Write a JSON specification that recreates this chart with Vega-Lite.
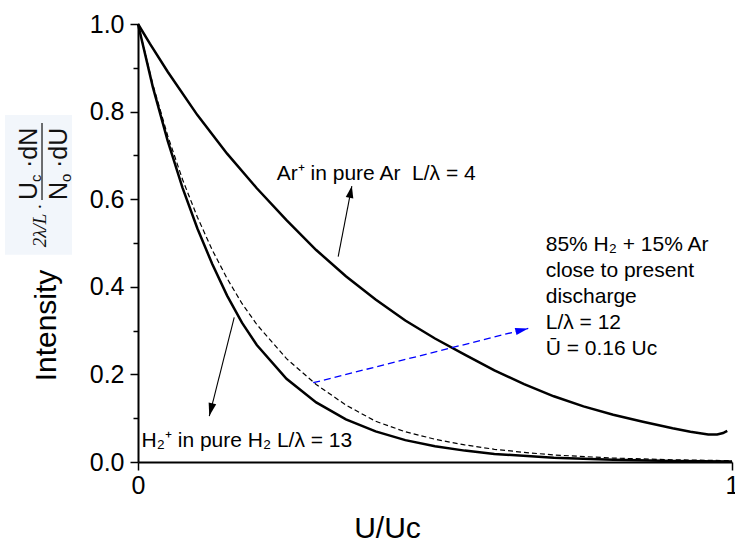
{
  "$schema": "https://vega.github.io/schema/vega-lite/v6.json",
  "width": 594,
  "height": 438,
  "autosize": {"type": "none"},
  "padding": {"left": 138, "top": 24, "right": 3, "bottom": 83},
  "background": "white",
  "config": {
    "font": "Liberation Sans",
    "view": {"stroke": null},
    "axis": {"grid": false, "domainColor": "black", "tickColor": "black", "labelColor": "black", "titleColor": "black", "titleFontWeight": "normal", "labelFont": "Liberation Sans", "titleFont": "Liberation Sans"}
  },
  "datasets": {
    "curves": [
      {"series": "Ar", "x": 0, "y": 1},
      {"series": "Ar", "x": 0.02, "y": 0.955},
      {"series": "Ar", "x": 0.05, "y": 0.891},
      {"series": "Ar", "x": 0.1, "y": 0.792},
      {"series": "Ar", "x": 0.15, "y": 0.704},
      {"series": "Ar", "x": 0.2, "y": 0.625},
      {"series": "Ar", "x": 0.25, "y": 0.552},
      {"series": "Ar", "x": 0.3, "y": 0.484},
      {"series": "Ar", "x": 0.35, "y": 0.424},
      {"series": "Ar", "x": 0.4, "y": 0.371},
      {"series": "Ar", "x": 0.45, "y": 0.323},
      {"series": "Ar", "x": 0.5, "y": 0.282},
      {"series": "Ar", "x": 0.55, "y": 0.245},
      {"series": "Ar", "x": 0.6, "y": 0.209},
      {"series": "Ar", "x": 0.65, "y": 0.178},
      {"series": "Ar", "x": 0.7, "y": 0.150},
      {"series": "Ar", "x": 0.75, "y": 0.127},
      {"series": "Ar", "x": 0.8, "y": 0.108},
      {"series": "Ar", "x": 0.85, "y": 0.092},
      {"series": "Ar", "x": 0.9, "y": 0.077},
      {"series": "Ar", "x": 0.93, "y": 0.069},
      {"series": "Ar", "x": 0.96, "y": 0.063},
      {"series": "Ar", "x": 0.975, "y": 0.063},
      {"series": "Ar", "x": 0.985, "y": 0.066},
      {"series": "Ar", "x": 0.992, "y": 0.071},
      {"series": "H2", "x": 0, "y": 1},
      {"series": "H2", "x": 0.025, "y": 0.856},
      {"series": "H2", "x": 0.05, "y": 0.733},
      {"series": "H2", "x": 0.075, "y": 0.626},
      {"series": "H2", "x": 0.1, "y": 0.533},
      {"series": "H2", "x": 0.125, "y": 0.452},
      {"series": "H2", "x": 0.15, "y": 0.380},
      {"series": "H2", "x": 0.175, "y": 0.318},
      {"series": "H2", "x": 0.2, "y": 0.267},
      {"series": "H2", "x": 0.25, "y": 0.190},
      {"series": "H2", "x": 0.3, "y": 0.136},
      {"series": "H2", "x": 0.35, "y": 0.0975},
      {"series": "H2", "x": 0.4, "y": 0.070},
      {"series": "H2", "x": 0.45, "y": 0.050},
      {"series": "H2", "x": 0.5, "y": 0.036},
      {"series": "H2", "x": 0.55, "y": 0.026},
      {"series": "H2", "x": 0.6, "y": 0.0185},
      {"series": "H2", "x": 0.7, "y": 0.0095},
      {"series": "H2", "x": 0.8, "y": 0.0049},
      {"series": "H2", "x": 0.9, "y": 0.0025},
      {"series": "H2", "x": 1.0, "y": 0.0013},
      {"series": "mix", "x": 0, "y": 1},
      {"series": "mix", "x": 0.025, "y": 0.862},
      {"series": "mix", "x": 0.05, "y": 0.745},
      {"series": "mix", "x": 0.075, "y": 0.645},
      {"series": "mix", "x": 0.1, "y": 0.559},
      {"series": "mix", "x": 0.125, "y": 0.484},
      {"series": "mix", "x": 0.15, "y": 0.419},
      {"series": "mix", "x": 0.175, "y": 0.362},
      {"series": "mix", "x": 0.2, "y": 0.314},
      {"series": "mix", "x": 0.25, "y": 0.236},
      {"series": "mix", "x": 0.3, "y": 0.177},
      {"series": "mix", "x": 0.35, "y": 0.130},
      {"series": "mix", "x": 0.4, "y": 0.093},
      {"series": "mix", "x": 0.45, "y": 0.069},
      {"series": "mix", "x": 0.5, "y": 0.052},
      {"series": "mix", "x": 0.55, "y": 0.039},
      {"series": "mix", "x": 0.6, "y": 0.029},
      {"series": "mix", "x": 0.65, "y": 0.022},
      {"series": "mix", "x": 0.7, "y": 0.016},
      {"series": "mix", "x": 0.8, "y": 0.009},
      {"series": "mix", "x": 0.9, "y": 0.005},
      {"series": "mix", "x": 1.0, "y": 0.003}
    ],
    "arrows": [
      {"id": "Ar", "x": 0.337, "y": 0.469, "x2": 0.360, "y2": 0.630},
      {"id": "H2", "x": 0.162, "y": 0.330, "x2": 0.120, "y2": 0.105},
      {"id": "mix", "x": 0.295, "y": 0.181, "x2": 0.657, "y2": 0.305}
    ],
    "annot": [
      {"x": 0.2335, "y": 0.6438, "label": "Ar⁺ in pure Ar\u00a0 L/λ = 4"},
      {"x": 0.006, "y": 0.0342, "label": "H₂⁺ in pure H₂ L/λ = 13"},
      {"x": 0.6864, "y": 0.4817, "label": "85% H₂ + 15% Ar"},
      {"x": 0.6864, "y": 0.4224, "label": "close to present"},
      {"x": 0.6864, "y": 0.3630, "label": "discharge"},
      {"x": 0.6864, "y": 0.3037, "label": "L/λ = 12"},
      {"x": 0.6864, "y": 0.2443, "label": "Ū = 0.16 Uc"}
    ],
    "box": [{"x": -0.224, "x2": -0.111, "y": 0.792, "y2": 0.473}],
    "frac": [
      {"x": -0.170, "y": 0.598, "main": "U", "sub": "c", "rest": "·dN"},
      {"x": -0.1195, "y": 0.598, "main": "N", "sub": "o", "rest": "·dU"}
    ],
    "fracline": [{"x": -0.1616, "y": 0.774, "y2": 0.598}],
    "pre": [{"x": -0.165, "y": 0.539, "label": "2λ/L ·"}]
  },
  "encoding": {
    "x": {
      "field": "x", "type": "quantitative",
      "scale": {"domain": [0, 1], "nice": false, "zero": false},
      "axis": {
        "values": [0, 1], "format": "d", "title": "U/Uc",
        "tickSize": 8, "tickWidth": 1.5, "domainWidth": 2,
        "labelFontSize": 25, "labelPadding": 3, "labelFlush": false,
        "titleFontSize": 30, "titleX": 249, "titleY": 75,
        "titleAlign": "center", "titleBaseline": "alphabetic"
      }
    },
    "y": {
      "field": "y", "type": "quantitative",
      "scale": {"domain": [0, 1], "nice": false, "zero": false},
      "axis": {
        "values": [0, 0.1, 0.2, 0.3, 0.4, 0.5, 0.6, 0.7, 0.8, 0.9, 1.0],
        "labelExpr": "round(datum.value*10) % 2 == 0 ? format(datum.value, '.1f') : ''",
        "tickSize": {"condition": {"test": "round(datum.value*10) % 2 == 1", "value": 5}, "value": 8},
        "tickWidth": 1.5, "domainWidth": 2,
        "labelFontSize": 25, "labelPadding": 6, "labelFlush": false,
        "title": "Intensity", "titleFontSize": 30, "titleAngle": 270,
        "titleX": -83, "titleY": 301, "titleAlign": "center", "titleBaseline": "alphabetic"
      }
    }
  },
  "layer": [
    {
      "data": {"name": "box"},
      "mark": {"type": "rect", "color": "#f2f6fb"},
      "encoding": {"x2": {"field": "x2"}, "y2": {"field": "y2"}}
    },
    {
      "data": {"name": "curves"},
      "transform": [{"filter": "datum.series != 'mix'"}],
      "mark": {"type": "line", "color": "black", "strokeWidth": 2.5},
      "encoding": {"detail": {"field": "series"}}
    },
    {
      "data": {"name": "curves"},
      "transform": [{"filter": "datum.series == 'mix'"}],
      "mark": {"type": "line", "color": "black", "strokeWidth": 1.2, "strokeDash": [5, 3]},
      "encoding": {}
    },
    {
      "data": {"name": "arrows"},
      "transform": [{"filter": "datum.id != 'mix'"}],
      "mark": {"type": "rule", "color": "black", "strokeWidth": 1.1},
      "encoding": {"x2": {"field": "x2"}, "y2": {"field": "y2"}}
    },
    {
      "data": {"name": "arrows"},
      "transform": [{"filter": "datum.id == 'mix'"}],
      "mark": {"type": "rule", "color": "#0000ff", "strokeWidth": 1.3, "strokeDash": [7, 4]},
      "encoding": {"x2": {"field": "x2"}, "y2": {"field": "y2"}}
    },
    {
      "data": {"name": "arrows"},
      "transform": [{"filter": "datum.id == 'Ar'"}],
      "mark": {"type": "point", "shape": "M0,0 L0.32,1 L-0.32,1 Z", "filled": true, "color": "black", "opacity": 1, "size": 576, "angle": 11},
      "encoding": {"x": {"field": "x2", "type": "quantitative"}, "y": {"field": "y2", "type": "quantitative"}}
    },
    {
      "data": {"name": "arrows"},
      "transform": [{"filter": "datum.id == 'H2'"}],
      "mark": {"type": "point", "shape": "M0,0 L0.3,1 L-0.3,1 Z", "filled": true, "color": "black", "opacity": 1, "size": 676, "angle": 194},
      "encoding": {"x": {"field": "x2", "type": "quantitative"}, "y": {"field": "y2", "type": "quantitative"}}
    },
    {
      "data": {"name": "arrows"},
      "transform": [{"filter": "datum.id == 'mix'"}],
      "mark": {"type": "point", "shape": "M0,0 L0.28,1 L-0.28,1 Z", "filled": true, "color": "#0000ff", "opacity": 1, "size": 676, "angle": 76},
      "encoding": {"x": {"field": "x2", "type": "quantitative"}, "y": {"field": "y2", "type": "quantitative"}}
    },
    {
      "data": {"name": "annot"},
      "mark": {"type": "text", "align": "left", "baseline": "alphabetic", "fontSize": 21, "color": "black"},
      "encoding": {"text": {"field": "label"}}
    },
    {
      "data": {"name": "fracline"},
      "mark": {"type": "rule", "color": "#111", "strokeWidth": 1.2},
      "encoding": {"y2": {"field": "y2"}}
    },
    {
      "data": {"name": "frac"},
      "mark": {"type": "text", "align": "left", "baseline": "alphabetic", "angle": 270, "fontSize": 25, "color": "#111"},
      "encoding": {"text": {"field": "main"}}
    },
    {
      "data": {"name": "frac"},
      "mark": {"type": "text", "align": "left", "baseline": "alphabetic", "angle": 270, "fontSize": 15, "dx": 18, "dy": 4, "color": "#111"},
      "encoding": {"text": {"field": "sub"}}
    },
    {
      "data": {"name": "frac"},
      "mark": {"type": "text", "align": "left", "baseline": "alphabetic", "angle": 270, "fontSize": 25, "dx": 32, "color": "#111"},
      "encoding": {"text": {"field": "rest"}}
    },
    {
      "data": {"name": "pre"},
      "mark": {"type": "text", "align": "center", "baseline": "middle", "angle": 270, "fontSize": 19, "font": "Liberation Serif", "fontStyle": "italic", "color": "#111"},
      "encoding": {"text": {"field": "label"}}
    }
  ]
}
